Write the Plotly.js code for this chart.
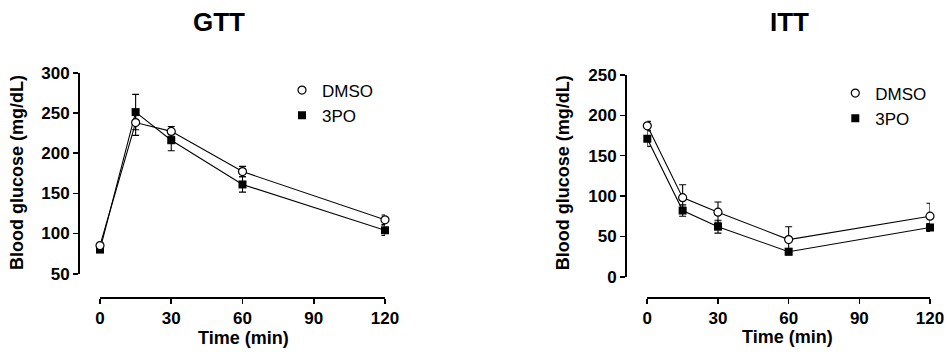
<!DOCTYPE html>
<html>
<head>
<meta charset="utf-8">
<script src="https://cdn.plot.ly/plotly-3.0.1.min.js"></script>
<style>html,body{margin:0;padding:0;background:#fff;}#chart{width:952px;height:355px;}</style>
</head>
<body>
<div id="chart"></div>
<script>
// ---- data ----
const timeMin = [0, 15, 30, 60, 120];
const seriesNames = ["DMSO", "3PO"];
const gttDMSO = [85, 238, 227, 177, 117];
const gttDMSOErr = [3, 16, 6, 6.5, 6];
const gtt3PO = [80, 251, 216, 161, 104];
const gtt3POErr = [3, 22, 13, 9.5, 6.5];
const ittDMSO = [187, 98, 80, 46, 75];
const ittDMSOErr = [5.5, 16, 12.5, 16, 16];
const itt3PO = [171, 82, 62, 31, 61];
const itt3POErr = [9.5, 7, 8, 4, 5];
const xTicks = [0, 30, 60, 90, 120];
const gttYTicks = [50, 100, 150, 200, 250, 300];
const ittYTicks = [0, 50, 100, 150, 200, 250];

const W = 952, H = 355;
const px = v => v / W;
const py = v => (H - v) / H;
const FONT = "Liberation Sans, Arial, sans-serif";
const boldLabels = arr => arr.map(v => "<b>" + v + "</b>");

function lineTrace(x, y, xa, ya) {
  return {x: x, y: y, xaxis: xa, yaxis: ya, mode: "lines", type: "scatter",
    line: {color: "#000", width: 1.1}, showlegend: false, hoverinfo: "skip", cliponaxis: false};
}
function markTrace(name, x, y, err, xa, ya, open, legend) {
  return {x: x, y: y, xaxis: xa, yaxis: ya, mode: "markers", type: "scatter", name: name,
    legend: legend, cliponaxis: false,
    marker: open ? {symbol: "circle", size: 8, color: "#fff", line: {color: "#000", width: 1.2}}
                 : {symbol: "square", size: 8, color: "#000", line: {color: "#000", width: 0}},
    error_y: {type: "data", array: err, visible: true, color: "#000", thickness: 1.1, width: 3.5}};
}

const data = [
  lineTrace(timeMin, gtt3PO, "x", "y"),
  lineTrace(timeMin, gttDMSO, "x", "y"),
  markTrace(seriesNames[1], timeMin, gtt3PO, gtt3POErr, "x", "y", false, "legend"),
  markTrace(seriesNames[0], timeMin, gttDMSO, gttDMSOErr, "x", "y", true, "legend"),
  lineTrace(timeMin, itt3PO, "x2", "y2"),
  lineTrace(timeMin, ittDMSO, "x2", "y2"),
  markTrace(seriesNames[1], timeMin, itt3PO, itt3POErr, "x2", "y2", false, "legend2"),
  markTrace(seriesNames[0], timeMin, ittDMSO, ittDMSOErr, "x2", "y2", true, "legend2")
];

const axisCommon = {anchor: "free", showline: true, linecolor: "#000", linewidth: 1.6,
  ticks: "outside", ticklen: 5, tickwidth: 1.6, tickcolor: "#000", showgrid: false,
  zeroline: false, fixedrange: true, tickmode: "array",
  tickfont: {family: "Liberation Sans", size: 17, color: "#000", weight: 700}};

function xAxis(dom, pos) {
  return Object.assign({}, axisCommon, {domain: dom, position: pos, range: [0, 120],
    tickvals: xTicks, ticktext: boldLabels(xTicks)});
}
function yAxis(dom, pos, range, ticks) {
  return Object.assign({}, axisCommon, {domain: dom, position: pos, range: range,
    tickvals: ticks, ticktext: boldLabels(ticks)});
}
function ann(text, x, y, size, bold, angle) {
  return {text: text, xref: "paper", yref: "paper", x: px(x), y: py(y), xanchor: "center", yanchor: "middle",
    showarrow: false, textangle: angle || 0,
    font: {family: FONT, size: size, color: "#000", weight: bold ? "bold" : "normal"}};
}

const legendCommon = {orientation: "v", bgcolor: "rgba(0,0,0,0)", borderwidth: 0,
  font: {family: FONT, size: 17, color: "#000"}, xanchor: "left", yanchor: "top",
  traceorder: "reversed", itemclick: false, itemdoubleclick: false};

const layout = {
  width: W, height: H, margin: {l: 0, r: 0, t: 0, b: 0}, paper_bgcolor: "#fff", plot_bgcolor: "#fff",
  font: {family: FONT, color: "#000"},
  xaxis: xAxis([px(100), px(385)], py(297.3)),
  yaxis: yAxis([py(273.7), py(72.7)], px(78), [50, 300], gttYTicks),
  xaxis2: xAxis([px(647.3), px(930)], py(297.3)),
  yaxis2: yAxis([py(276.7), py(75)], px(625), [0, 250], ittYTicks),
  legend: Object.assign({}, legendCommon, {x: px(299 - 17), y: py(72.5)}),
  legend2: Object.assign({}, legendCommon, {x: px(852.3 - 17), y: py(75.5)}),
  annotations: [
    ann("GTT", 219, 22, 26, true),
    ann("ITT", 789, 22, 26, true),
    ann("Time (min)", 243.5, 338, 18, true),
    ann("Time (min)", 787.5, 337, 18, true),
    ann("Blood glucose (mg/dL)", 17, 173, 18, true, -90),
    ann("Blood glucose (mg/dL)", 563.3, 173, 18, true, -90)
  ],
  showlegend: true
};

Plotly.newPlot("chart", data, layout, {staticPlot: true, displayModeBar: false});
</script>
</body>
</html>
